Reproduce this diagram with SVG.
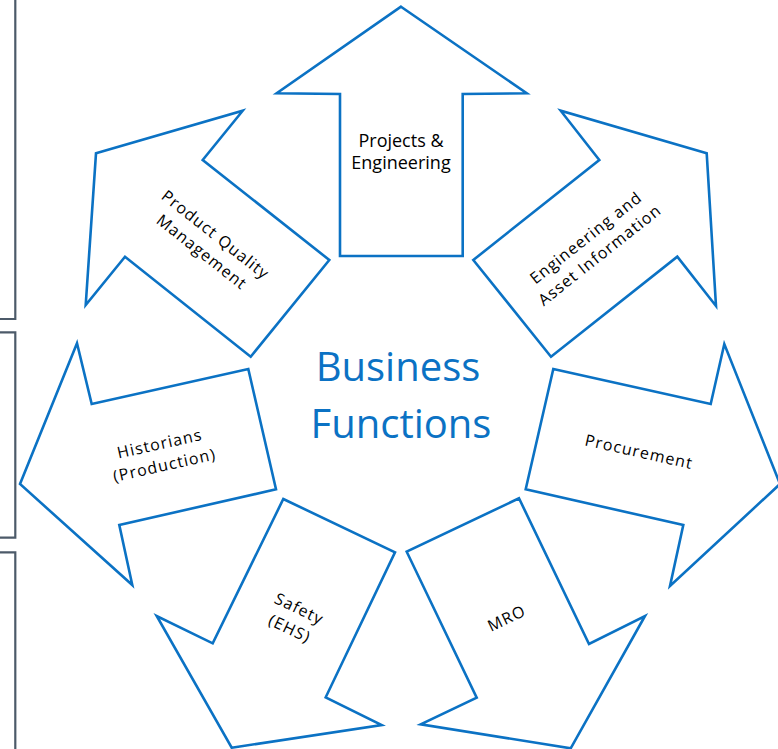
<svg xmlns="http://www.w3.org/2000/svg" width="778" height="749" viewBox="0 0 778 749">
<style>
.arrow{fill:#ffffff;stroke:#0B72C4;stroke-width:2.6;stroke-linejoin:miter}
.box{fill:none;stroke:#4C5A69;stroke-width:2.2}
.lbl{font-family:"Open Sans","Noto Sans","Liberation Sans",sans-serif;font-size:16px;letter-spacing:1.1px;fill:#000;text-anchor:middle}
.lbl2{font-family:"Open Sans","Noto Sans","Liberation Sans",sans-serif;font-size:18px;fill:#000;text-anchor:middle}
.title{font-family:"Open Sans","Noto Sans","Liberation Sans",sans-serif;font-size:40px;fill:#0B72C4;text-anchor:middle}
</style>
<rect width="778" height="749" fill="#ffffff"/>
<g id="side-panels">
<polyline class="box" points="-2,319 15.3,319 15.3,-5"/>
<polyline class="box" points="-2,332.3 15.3,332.3 15.3,537.7 -2,537.7"/>
<polyline class="box" points="-2,552.3 15.3,552.3 15.3,760"/>
</g>
<g id="projects-engineering">
<polygon class="arrow" points="401,6.7 526.7,93.3 462.7,94 462.7,256 340,256 340,94 276.7,93.3"/>
<text class="lbl2" x="401" y="147">Projects &amp;</text>
<text class="lbl2" x="401" y="169">Engineering</text>
</g>
<g id="engineering-asset-information">
<polygon class="arrow" points="473.3,260 599.3,160 560.7,110.7 706.7,153.3 716,306 677.3,256.7 551,356.7"/>
<g transform="translate(592.5,246) rotate(-38.4)">
<text class="lbl" x="0" y="-5">Engineering and</text>
<text class="lbl" x="0" y="17">Asset Information</text>
</g>
</g>
<g id="product-quality-management">
<polygon class="arrow" points="96,153.3 242.7,110.7 202.7,160 329.3,260 250.7,356.7 125,256.7 85.7,305"/>
<g transform="translate(209,243) rotate(38.4)">
<text class="lbl" x="0" y="-5">Product Quality</text>
<text class="lbl" x="0" y="17">Management</text>
</g>
</g>
<g id="historians">
<polygon class="arrow" points="20,484 77,343.3 91.7,404 248.3,369 276,489.3 119.3,525 132.3,585"/>
<g transform="translate(162,454) rotate(-12.6)">
<text class="lbl" x="0" y="-5">Historians</text>
<text class="lbl" x="0" y="17">(Production)</text>
</g>
</g>
<g id="procurement">
<polygon class="arrow" points="553.3,369 710.7,404 724.3,344 780,484 670,586 683.3,525 525.7,489.3"/>
<g transform="translate(639,451.7) rotate(12.6)">
<text class="lbl" x="0" y="5.6">Procurement</text>
</g>
</g>
<g id="safety-ehs">
<polygon class="arrow" points="283.3,499 395,552.3 325.7,697.3 381.7,725 231.7,747.7 156.7,616 212.7,643.3"/>
<g transform="translate(294.7,618.3) rotate(25.5)">
<text class="lbl" x="0" y="-5">Safety</text>
<text class="lbl" x="0" y="17">(EHS)</text>
</g>
</g>
<g id="mro">
<polygon class="arrow" points="519,498.3 589,644 645,616 570.7,748.3 420.7,724.3 476.7,697.7 406.7,551.7"/>
<g transform="translate(506.7,618.3) rotate(-25.5)">
<text class="lbl" x="0" y="5.6">MRO</text>
</g>
</g>
<g id="center-title">
<text class="title" x="398" y="381">Business</text>
<text class="title" x="401" y="438">Functions</text>
</g>
<g id="connectors"></g>
</svg>
